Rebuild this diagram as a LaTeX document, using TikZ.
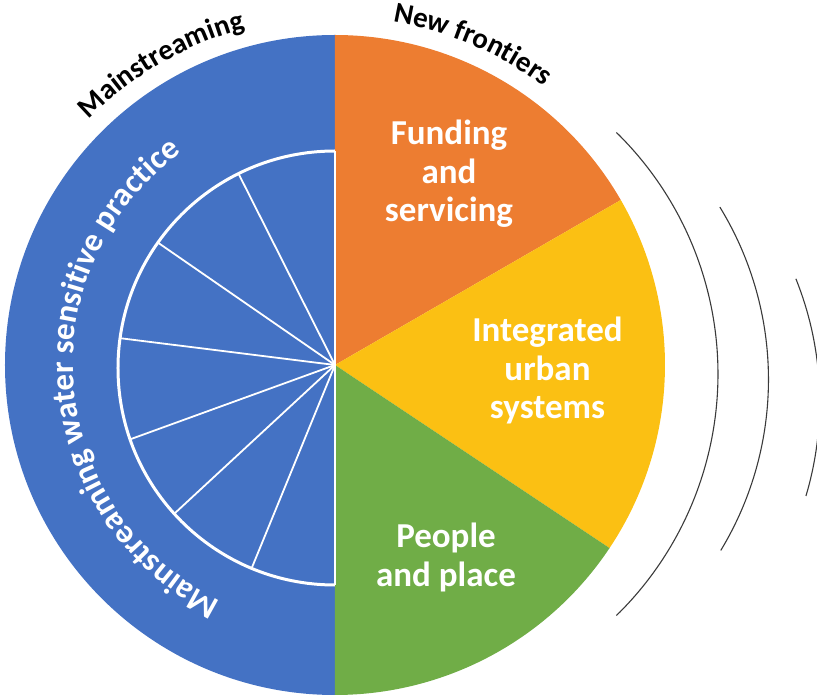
\documentclass[tikz,border=0pt]{standalone}
\usepackage{fontspec}
\setmainfont{Carlito}
\usetikzlibrary{decorations.text,calc}
\definecolor{wsblue}{HTML}{4472C4}
\definecolor{wsorange}{HTML}{ED7D31}
\definecolor{wsyellow}{HTML}{FBC013}
\definecolor{wsgreen}{HTML}{70AD47}
\definecolor{ripplegray}{HTML}{3A3A3A}
\begin{document}
\begin{tikzpicture}[x=1pt,y=1pt,
  lbl/.style={text=white, font=\bfseries\fontsize{35}{38.5}\selectfont, align=center, inner sep=0pt},
  ripple/.style={draw=ripplegray, line width=1.1pt},
  spoke/.style={draw=white, line width=1.8pt},
  rim/.style={draw=white, line width=3pt},
]
\useasboundingbox (-335,-333) rectangle (482,365);
\clip (-335,-333) rectangle (482,365);
\coordinate (c) at (0,0);
\coordinate (ic) at (0,-3);
% pie
\fill[wsblue] (c) -- (90:330) arc[start angle=90,end angle=270,radius=330] -- cycle;
\fill[wsorange] (c) -- (90:330) arc[start angle=90,end angle=30,radius=330] -- cycle;
\fill[wsyellow] (c) -- (30:330) arc[start angle=30,end angle=-33.7,radius=330] -- cycle;
\fill[wsgreen] (c) -- (-33.7:330) arc[start angle=-33.7,end angle=-90,radius=330] -- cycle;
% inner half circle
\coordinate (itop) at ($(ic)+(90:217)$);
\coordinate (ibot) at ($(ic)+(270:217)$);
\draw[rim] (itop) arc[start angle=90,end angle=270,radius=217];
\draw[white, line width=2.5pt] (itop) -- (ibot);
\foreach \a [count=\i] in {116.4,144.7,172.1,199.2,222.2,247.4}{
  \coordinate (sp\i) at ($(ic)+(\a:217)$);
  \draw[spoke] (c) -- (sp\i);
}
% ripples
\coordinate (r1) at (45,-9);
\coordinate (r2) at (103.5,-14.5);
\coordinate (r3) at (155,-36.8);
\draw[ripple] ($(r1)+(-45.6:338)$) arc[start angle=-45.6,end angle=45.6,radius=338];
\draw[ripple] ($(r2)+(-31.2:330)$) arc[start angle=-31.2,end angle=31.5,radius=330];
\draw[ripple] ($(r3)+(-16.6:329.7)$) arc[start angle=-16.6,end angle=21.9,radius=329.7];
% curved texts
\path[decorate, decoration={text along path, text align=center, text color=white,
  text={|\bfseries\fontsize{33}{33}\selectfont|Mainstreaming water sensitive practice}}]
  (275:262) arc[start angle=275,end angle=95,radius=262];
\path[decorate, decoration={text along path, text align=center, text color=black,
  text={|\bfseries\fontsize{29}{29}\selectfont|Mainstreaming}}]
  (180:348) arc[start angle=180,end angle=60,radius=348];
\path[decorate, decoration={text along path, text align=center, text color=black,
  text={|\bfseries\fontsize{29}{29}\selectfont|New frontiers}}]
  (126.75:348) arc[start angle=126.75,end angle=6.75,radius=348];
% wedge labels
\node[lbl] (fund) at (114,191) {Funding\\and\\servicing};
\node[lbl] (ius) at (212.5,-5.5) {Integrated\\urban\\systems};
\node[lbl] (ppl) at (111,-192.5) {People\\and place};
\end{tikzpicture}
\end{document}
